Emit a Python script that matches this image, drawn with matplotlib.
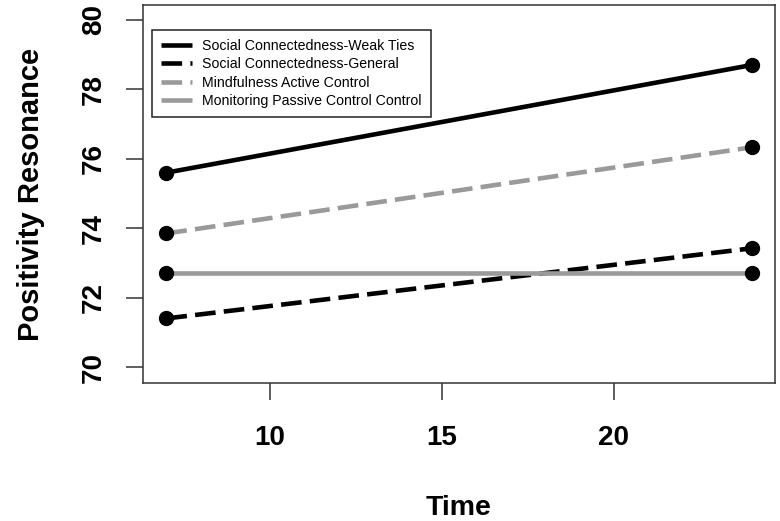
import numpy as np
import matplotlib.pyplot as plt

plt.rcParams['font.family'] = ['Liberation Sans', 'DejaVu Sans']

# time points and group means
time = [7, 24]
weak_ties = [75.6, 78.7]
general = [71.4, 73.42]
mindfulness = [73.85, 76.33]
monitoring = [72.72, 72.72]

labels = ["Social Connectedness-Weak Ties",
          "Social Connectedness-General",
          "Mindfulness Active Control",
          "Monitoring Passive Control Control"]

fig = plt.figure(figsize=(7.8, 5.21), dpi=100)
ax = fig.add_axes([143/780, 1 - 383/521, 632/780, 378/521])

gray = '#9a9a9a'
lw = 3.3
ax.plot(time, weak_ties, color='black', lw=lw, solid_capstyle='butt', label=labels[0])
ax.plot(time, general, color='black', lw=lw, dashes=(4.5, 1.8), label=labels[1])
ax.plot(time, mindfulness, color=gray, lw=lw, dashes=(4.5, 1.8), label=labels[2])
ax.plot(time, monitoring, color=gray, lw=lw, solid_capstyle='butt', label=labels[3])

for ys in [weak_ties, general, mindfulness, monitoring]:
    ax.plot(time, ys, 'o', color='black', ms=10, zorder=5)

ax.set_xlim(6.32, 24.68)
ax.set_ylim(69.54, 80.43)
ax.set_xticks([10, 15, 20])
ax.set_yticks([70, 72, 74, 76, 78, 80])

for s in ax.spines.values():
    s.set_linewidth(1.1)
    s.set_color('#333333')

ax.tick_params(axis='both', length=12, width=1.1, color='#333333', labelsize=20)
ax.tick_params(axis='x', pad=18)
ax.tick_params(axis='y', pad=14)
for t in ax.get_xticklabels() + ax.get_yticklabels():
    t.set_fontweight('bold')
for t in ax.get_yticklabels():
    t.set_rotation(90)
    t.set_va('center')

ax.set_xlabel('Time', fontsize=20.5, fontweight='bold', labelpad=32)
ax.set_ylabel('Positivity Resonance', fontsize=21, fontweight='bold', labelpad=26)

leg = ax.legend(loc='upper left', bbox_to_anchor=(0.014, 0.934), fontsize=10.2,
                handlelength=2.2, handletextpad=0.7, labelspacing=0.3,
                borderpad=0.65, borderaxespad=0, fancybox=False, framealpha=1)
leg.get_frame().set_edgecolor('#222222')
leg.get_frame().set_linewidth(1.1)

fig.savefig('out.png', dpi=100)
